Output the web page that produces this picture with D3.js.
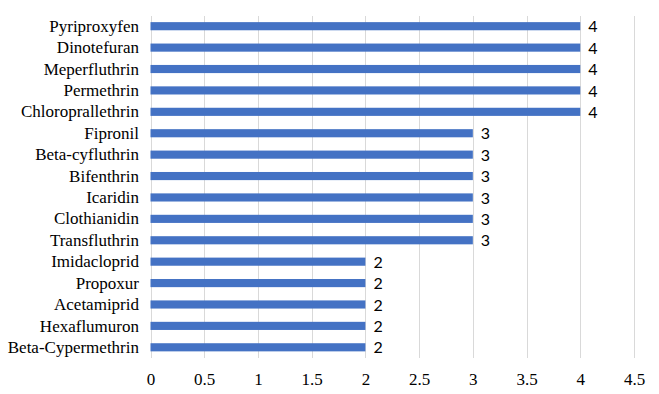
<!DOCTYPE html>
<html><head><meta charset="utf-8">
<script src="https://cdn.jsdelivr.net/npm/d3@7"></script>
<style>body{margin:0;background:#fff}svg{display:block}</style>
</head><body>
<script>
const categories = ["Pyriproxyfen","Dinotefuran","Meperfluthrin","Permethrin","Chloroprallethrin","Fipronil","Beta-cyfluthrin","Bifenthrin","Icaridin","Clothianidin","Transfluthrin","Imidacloprid","Propoxur","Acetamiprid","Hexaflumuron","Beta-Cypermethrin"];
const values = [4,4,4,4,4,3,3,3,3,3,3,2,2,2,2,2];
const xTicks = [0,0.5,1,1.5,2,2.5,3,3.5,4,4.5];

const SERIF = "'Liberation Serif'";
const SANS = "'Lato'";
const W = 659, H = 394;
const svg = d3.select("body").append("svg").attr("width", W).attr("height", H);
const x = d3.scaleLinear().domain([0, 4.5]).range([150.5, 634]);
const y = d3.scaleBand().domain(categories).range([15.5, 358]).paddingInner(0.62).paddingOuter(0.31);

svg.append("g").selectAll("line").data(xTicks).join("line")
  .attr("x1", d => Math.round(x(d)) + 0.5).attr("x2", d => Math.round(x(d)) + 0.5)
  .attr("y1", 16).attr("y2", 358)
  .attr("stroke", "#d9d9d9").attr("stroke-width", 1);

svg.append("g").selectAll("rect").data(categories).join("rect")
  .attr("x", x(0)).attr("y", d => y(d))
  .attr("width", (d, i) => x(values[i]) - x(0))
  .attr("height", y.bandwidth())
  .attr("fill", "#4472c4");

svg.append("g").selectAll("text").data(categories).join("text")
  .style("font-family", SERIF)
  .attr("x", 139).attr("y", d => y(d) + y.bandwidth() / 2)
  .attr("dy", "0.33em").attr("text-anchor", "end")
  .attr("font-size", 17).attr("fill", "#000")
  .text(d => d);

svg.append("g").selectAll("text").data(categories).join("text")
  .style("font-family", SANS)
  .attr("x", (d, i) => x(values[i]) + 8).attr("y", d => y(d) + y.bandwidth() / 2)
  .attr("dy", "0.38em")
  .attr("font-size", 16).attr("fill", "#000")
  .text((d, i) => values[i]);

const xAxis = d3.axisBottom(x).tickValues(xTicks).tickSize(0).tickPadding(0).tickFormat(d => String(d));
const gx = svg.append("g").attr("transform", "translate(0,373)").call(xAxis);
gx.select(".domain").remove();
gx.selectAll("text").style("font-family", SERIF)
  .attr("font-size", 17).attr("fill", "#000").attr("dy", "0.71em");
</script>
</body></html>
